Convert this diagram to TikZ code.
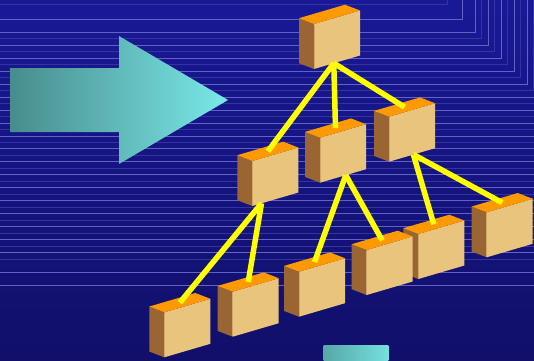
\documentclass[tikz,border=0pt]{standalone}
\usetikzlibrary{calc}

\definecolor{skytop}{RGB}{25,25,150}
\definecolor{skybot}{RGB}{17,15,105}
\definecolor{rulebright}{RGB}{98,98,196}
\definecolor{rulefaint}{RGB}{52,52,160}
\definecolor{arrowdark}{RGB}{72,140,140}
\definecolor{arrowlight}{RGB}{122,232,232}
\definecolor{crateface}{RGB}{232,196,124}
\definecolor{crateside}{RGB}{153,102,51}
\definecolor{cratetop}{RGB}{255,153,0}
\definecolor{linkyellow}{RGB}{255,255,0}

\tikzset{
  x=1pt, y=-1pt,
  brightrule/.style={draw=rulebright, line width=0.8pt},
  faintrule/.style={draw=rulefaint, line width=0.8pt},
  link/.style={draw=linkyellow, line width=5.5pt, line cap=butt},
  % a box seen from the front-left; origin is the front top-left corner
  crate/.pic={
    \fill[crateside] (0,0) -- (-15,-5.8) -- (-15,39.2) -- (0,45) -- cycle;
    \fill[crateface] (0,0) -- (46,-13.5) -- (46,31.5) -- (0,45) -- cycle;
    \fill[cratetop]  (0,0) -- (-15,-5.8) -- (31,-19.3) -- (46,-13.5) -- cycle;
    \draw[crateface!70!crateside, line width=0.5pt] (0,0.5) -- (0,44.5);
    \coordinate (-top) at (15.5,-9.65);
    \coordinate (-bl) at (0,45);
    \coordinate (-br) at (46,31.5);
  }
}

\begin{document}
\begin{tikzpicture}
\useasboundingbox (0,0) rectangle (534,360);

% backdrop
\shade[top color=skytop, bottom color=skybot] (0,0) rectangle (534,360);

% ruled lines, turning upwards near the top right corner
\begin{scope}
  \clip (0,0) rectangle (534,360);
  \draw[faintrule] (0,4.3) -- (447.3,4.3) -- (447.3,0);
  \foreach \yy in {19.3,32.3}
    \draw[brightrule] (0,\yy) -- (\yy+443,\yy) -- (\yy+443,0);
  \foreach \k in {0,...,34}{
    \pgfmathsetmacro\yy{38.7+6.48*\k}
    \ifodd\k
      \draw[brightrule] (0,\yy) -- (\yy+443,\yy) -- (\yy+443,0);
    \else
      \draw[faintrule] (0,\yy) -- (\yy+443,\yy) -- (\yy+443,0);
    \fi
  }
  \foreach \yy in {272.3,285.3}
    \draw[brightrule] (0,\yy) -- (534,\yy);
\end{scope}

% big arrow
\shade[left color=arrowdark, right color=arrowlight]
  (10,68) -- (119,68) -- (119,36) -- (228,100) -- (119,164) -- (119,132) -- (10,132) -- cycle;

% bar at the bottom edge
\shade[left color=arrowdark!70!arrowlight, right color=arrowlight!90!arrowdark]
  (323.7,345) rectangle (388.3,361);

% boxes, back to front
\pic (root) at (314,24) {crate};
\pic (mc) at (389,116.7) {crate};
\pic (mb) at (320,137.7) {crate};
\pic (ma) at (252.3,161) {crate};
\pic (lf) at (486.7,212.3) {crate};
\pic (le) at (418.3,234) {crate};
\pic (ld) at (366.7,250) {crate};
\pic (lc) at (299,271.7) {crate};
\pic (lb) at (232.7,291.7) {crate};
\pic (la) at (164.3,312.3) {crate};

% attachment points on the lower front edges
\coordinate (root-out) at ($(root-bl)!0.43!(root-br)$);
\coordinate (ma-out) at ($(ma-bl)!0.2!(ma-br)$);
\coordinate (mb-out) at ($(mb-bl)!0.56!(mb-br)$);
\coordinate (mc-out) at ($(mc-bl)!0.53!(mc-br)$);

% links
\draw[link] (root-out) -- (ma-top);
\draw[link] (root-out) -- (mb-top);
\draw[link] (root-out) -- (mc-top);
\draw[link] (ma-out) -- (la-top);
\draw[link] (ma-out) -- (lb-top);
\draw[link] (mb-out) -- (lc-top);
\draw[link] (mb-out) -- (ld-top);
\draw[link] (mc-out) -- (le-top);
\draw[link] (mc-out) -- (lf-top);
\end{tikzpicture}
\end{document}
